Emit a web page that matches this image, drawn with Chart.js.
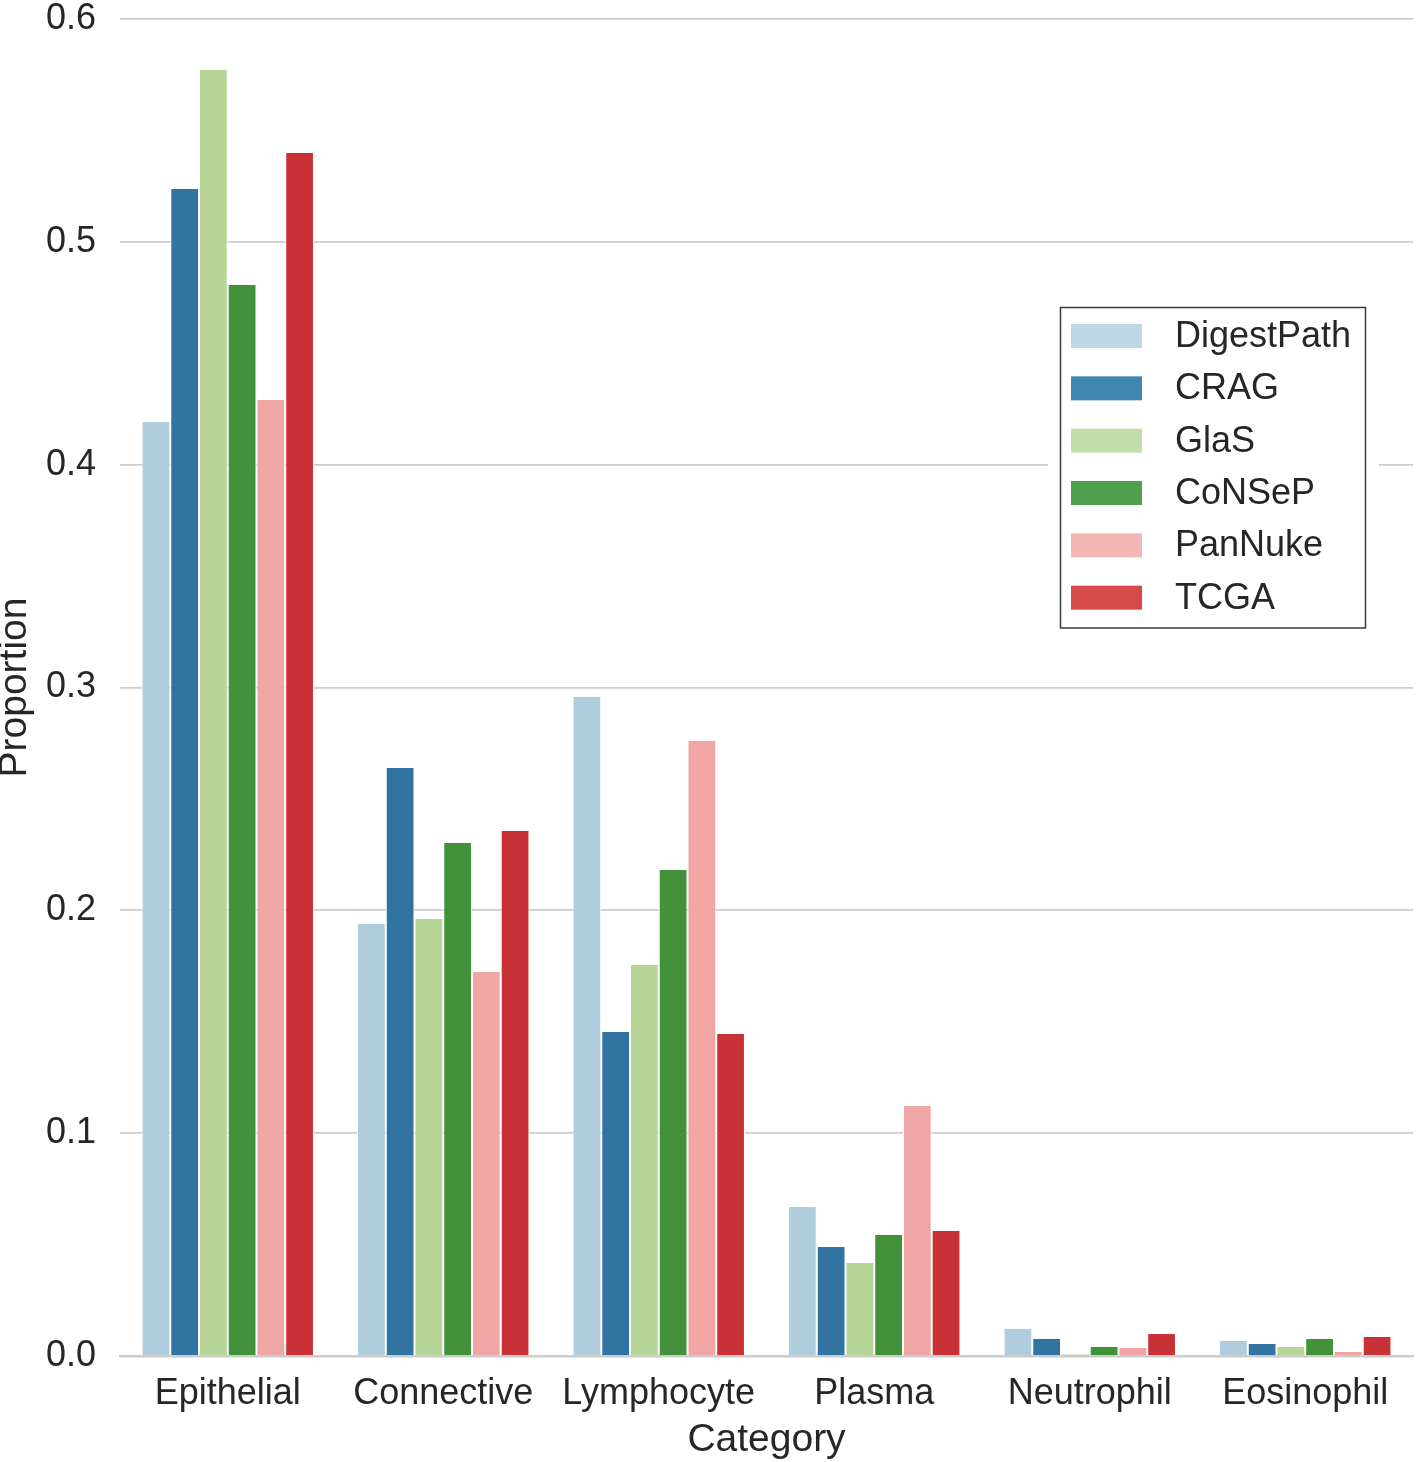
<!DOCTYPE html>
<html>
<head>
<meta charset="utf-8">
<script src="https://cdn.jsdelivr.net/npm/chart.js@4/dist/chart.umd.min.js"></script>
<style>
  html, body { margin: 0; padding: 0; background: #ffffff; }
  #wrap { position: relative; width: 1419px; height: 1462px; }
</style>
</head>
<body>
<div id="wrap"><canvas id="c"></canvas></div>
<script>
// ---- data ----
const categories = ["Epithelial", "Connective", "Lymphocyte", "Plasma", "Neutrophil", "Eosinophil"];
const seriesNames = ["DigestPath", "CRAG", "GlaS", "CoNSeP", "PanNuke", "TCGA"];
const digestPath = [0.4196, 0.1943, 0.2962, 0.0673, 0.0126, 0.0072];
const crag       = [0.5242, 0.2643, 0.1459, 0.0494, 0.0081, 0.0058];
const glas       = [0.5776, 0.1966, 0.1759, 0.0422, 0.0009, 0.0045];
const consep     = [0.4811, 0.2307, 0.2186, 0.0548, 0.0045, 0.0081];
const pannuke    = [0.4295, 0.1728, 0.2764, 0.1126, 0.0040, 0.0022];
const tcga       = [0.5403, 0.2361, 0.1450, 0.0565, 0.0103, 0.0090];
const yTicks = [0, 0.1, 0.2, 0.3, 0.4, 0.5, 0.6];
const xTitle = "Category";
const yTitle = "Proportion";

// ---- styles ----
const barColors    = ["#b0cddd", "#3274a1", "#b7d596", "#41923b", "#f0a6a5", "#c83236"];
const legendColors = ["#bcd8e3", "#3e87b0", "#c2dea8", "#4d9f4b", "#f4b5b5", "#d64a48"];
const textColor = "#262626";
const gridColor = "#cccccc";
const FONT = "'Liberation Sans', Arial, Helvetica, sans-serif";

const seriesValues = [digestPath, crag, glas, consep, pannuke, tcga];

const datasets = seriesNames.map((name, i) => ({
  label: name,
  data: seriesValues[i],
  backgroundColor: barColors[i],
  borderColor: "#ffffff",
  borderWidth: 1,
  barPercentage: 1.0,
  categoryPercentage: 0.8
}));

const legendPlugin = {
  id: "boxLegend",
  afterDraw(chart) {
    const ctx = chart.ctx;
    ctx.save();
    ctx.fillStyle = "#ffffff";
    ctx.fillRect(1048, 296, 331, 344);
    ctx.strokeStyle = "#3a3a3a";
    ctx.lineWidth = 1.5;
    ctx.strokeRect(1060.5, 307.5, 305, 320.5);
    const rowY0 = 336, rowStep = 52.33;
    ctx.font = "36px " + FONT;
    ctx.textBaseline = "middle";
    ctx.textAlign = "left";
    chart.data.datasets.forEach((ds, i) => {
      const cy = rowY0 + i * rowStep;
      ctx.fillStyle = legendColors[i];
      ctx.fillRect(1071, cy - 12, 71, 24);
      ctx.fillStyle = textColor;
      ctx.fillText(ds.label, 1175, cy + 1);
    });
    ctx.restore();
  }
};

new Chart(document.getElementById("c"), {
  type: "bar",
  data: { labels: categories, datasets },
  plugins: [legendPlugin],
  options: {
    responsive: true,
    maintainAspectRatio: false,
    animation: false,
    layout: { padding: { top: 19, right: 6, left: 0, bottom: 0 } },
    plugins: { legend: { display: false }, tooltip: { enabled: false } },
    scales: {
      x: {
        type: "category",
        offset: true,
        grid: { display: false, drawTicks: false },
        border: { display: true, color: gridColor, width: 2.5 },
        ticks: { color: textColor, font: { family: FONT, size: 36 }, padding: 16, maxRotation: 0, autoSkip: false },
        title: { display: true, text: xTitle, color: textColor, font: { family: FONT, size: 39, lineHeight: 1.0 }, padding: { top: 0, bottom: 2 } },
        afterFit(scale) { scale.height = 106; scale.paddingLeft = 0; scale.paddingRight = 0; }
      },
      y: {
        min: 0,
        max: 0.6,
        afterBuildTicks(scale) { scale.ticks = yTicks.map(v => ({ value: v })); },
        grid: { color: gridColor, lineWidth: 1.8, drawTicks: false },
        border: { display: false },
        ticks: {
          color: textColor,
          font: { family: FONT, size: 36, lineHeight: 1 },
          padding: 24,
          callback: (v) => Number(v).toFixed(1)
        },
        title: { display: true, text: yTitle, color: textColor, font: { family: FONT, size: 39, lineHeight: 0.8 }, padding: { top: 0, bottom: 0 } },
        afterFit(scale) { scale.width = 120; scale.paddingTop = 0; scale.paddingBottom = 0; }
      }
    }
  }
});
</script>
</body>
</html>
